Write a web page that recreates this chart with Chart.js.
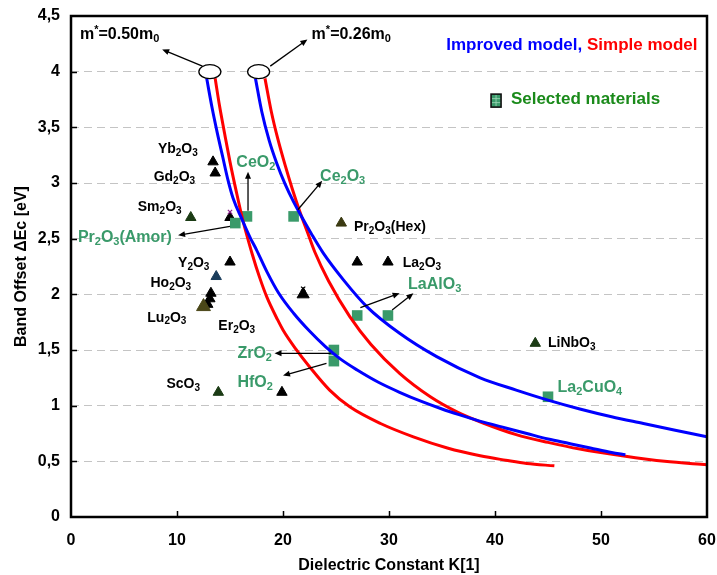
<!DOCTYPE html>
<html>
<head>
<meta charset="utf-8">
<script src="https://cdn.jsdelivr.net/npm/chart.js@4/dist/chart.umd.min.js"></script>
<style>
  html, body { margin: 0; padding: 0; background: #ffffff; }
  #wrap { width: 717px; height: 575px; }
</style>
</head>
<body>
<div id="wrap"><canvas id="chart" width="717" height="575"></canvas></div>
<script>
// Conduction band offset vs dielectric constant for two effective masses,
// improved (blue) and simple (red) model, plus material data points.

// m* = 0.50 m0, improved model
const improved050K = [12.8, 13.3, 13.8, 14.3, 14.8, 15.3, 16.1, 16.9, 17.5, 18.5, 19.6, 21.0, 22.5, 24.0, 25.4, 27.0, 29.0, 31.0, 33.0, 35.0, 36.6, 39.0, 41.0, 43.0, 45.0, 47.0, 49.0, 51.0, 52.3];
const improved050E = [3.94, 3.68, 3.45, 3.24, 3.03, 2.86, 2.68, 2.51, 2.40, 2.20, 2.01, 1.83, 1.67, 1.53, 1.42, 1.32, 1.21, 1.12, 1.04, 0.97, 0.92, 0.85, 0.80, 0.75, 0.70, 0.66, 0.62, 0.58, 0.56];
// m* = 0.50 m0, simple model
const simple050K = [13.6, 14.0, 14.5, 15.0, 15.6, 16.2, 17.1, 17.8, 18.5, 19.5, 20.0, 21.2, 22.5, 24.4, 26.3, 29.2, 32.3, 35.5, 38.6, 41.0, 43.0, 45.6];
const simple050E = [3.94, 3.70, 3.44, 3.19, 2.92, 2.67, 2.36, 2.15, 1.97, 1.77, 1.68, 1.51, 1.35, 1.14, 0.99, 0.84, 0.72, 0.62, 0.55, 0.51, 0.48, 0.46];
// m* = 0.26 m0, improved model
const improved026K = [17.4, 18.0, 18.7, 19.4, 20.2, 21.0, 21.8, 22.7, 23.8, 25.7, 27.9, 31.0, 34.5, 38.6, 42.0, 45.0, 48.0, 51.0, 54.0, 57.0, 60.0];
const improved026E = [3.94, 3.64, 3.38, 3.18, 2.99, 2.83, 2.69, 2.54, 2.37, 2.13, 1.89, 1.65, 1.44, 1.25, 1.14, 1.05, 0.97, 0.90, 0.84, 0.78, 0.72];
// m* = 0.26 m0, simple model
const simple026K = [18.3, 18.9, 19.5, 20.2, 20.9, 21.6, 22.3, 23.0, 24.3, 26.3, 28.3, 31.0, 33.9, 36.5, 39.0, 42.0, 45.0, 48.0, 52.0, 56.0, 60.0];
const simple026E = [3.94, 3.64, 3.40, 3.16, 2.94, 2.74, 2.56, 2.38, 2.12, 1.80, 1.55, 1.29, 1.08, 0.94, 0.84, 0.74, 0.67, 0.61, 0.55, 0.50, 0.47];

// Selected materials (squares)
const selectedNames = ['Pr2O3(Amor)', 'CeO2', 'Ce2O3', 'LaAlO3', 'LaAlO3', 'ZrO2', 'HfO2', 'La2CuO4'];
const selectedK = [15.5, 16.6, 21.0, 27.0, 29.9, 24.8, 24.8, 45.0];
const selectedE = [2.64, 2.70, 2.70, 1.81, 1.81, 1.50, 1.40, 1.08];

// Other oxides (triangles)
const otherNames = ['Yb2O3', 'Gd2O3', 'Sm2O3', '', 'Pr2O3(Hex)', 'Y2O3', '', 'La2O3', 'Ho2O3', '', '', 'Er2O3', 'Lu2O3', '', 'ScO3', '', 'LiNbO3'];
const otherK = [13.4, 13.6, 11.3, 15.0, 25.5, 15.0, 27.0, 29.9, 13.7, 13.2, 13.1, 12.9, 12.5, 21.9, 13.9, 19.9, 43.8];
const otherE = [3.19, 3.09, 2.69, 2.69, 2.64, 2.29, 2.29, 2.29, 2.16, 2.01, 1.96, 1.91, 1.89, 2.00, 1.12, 1.12, 1.56];
const otherColors = ['#000', '#000', '#1b3b14', '#000', '#3b3a12', '#000', '#000', '#000', '#1b3d5c', '#000', '#000', '#000', '#4a4718', '#000', '#1b3b14', '#000', '#1b3b14'];
const otherSizes = [6, 6, 6, 6, 6, 6, 6, 6, 6, 6, 6, 6, 8, 7, 6, 6, 6];

// Small cross marks overlapping two of the triangles
const crossK = [15.0, 21.9];
const crossE = [2.74, 2.05];
const crossColors = ['#8a1a8a', '#000'];

// Y tick labels use a decimal comma
const yTickLabels = ['0', '0,5', '1', '1,5', '2', '2,5', '3', '3,5', '4', '4,5'];

const GREEN = '#3a9a6a';
const FONT = '"Liberation Sans", Arial, sans-serif';

// Text annotations: markup "_c" = subscript, "^c" = superscript; anchor = left/middle in data units
const labelAnchors = [
  { t: 'Yb_2O_3', k: 8.2, e: 3.30, c: '#000', s: 14 },
  { t: 'Gd_2O_3', k: 7.8, e: 3.05, c: '#000', s: 14 },
  { t: 'Sm_2O_3', k: 6.3, e: 2.78, c: '#000', s: 14 },
  { t: 'Y_2O_3', k: 10.1, e: 2.28, c: '#000', s: 14 },
  { t: 'Ho_2O_3', k: 7.5, e: 2.10, c: '#000', s: 14 },
  { t: 'Lu_2O_3', k: 7.2, e: 1.79, c: '#000', s: 14 },
  { t: 'Er_2O_3', k: 13.9, e: 1.71, c: '#000', s: 14 },
  { t: 'ScO_3', k: 9.0, e: 1.19, c: '#000', s: 14 },
  { t: 'Pr_2O_3(Hex)', k: 26.7, e: 2.60, c: '#000', s: 14 },
  { t: 'La_2O_3', k: 31.3, e: 2.28, c: '#000', s: 14 },
  { t: 'LiNbO_3', k: 45.0, e: 1.56, c: '#000', s: 14 },
  { t: 'Pr_2O_3(Amor)', k: 0.65, e: 2.51, c: GREEN, s: 16 },
  { t: 'CeO_2', k: 15.6, e: 3.18, c: GREEN, s: 16 },
  { t: 'Ce_2O_3', k: 23.5, e: 3.06, c: GREEN, s: 16 },
  { t: 'LaAlO_3', k: 31.8, e: 2.09, c: GREEN, s: 16 },
  { t: 'ZrO_2', k: 15.7, e: 1.47, c: GREEN, s: 16 },
  { t: 'HfO_2', k: 15.7, e: 1.21, c: GREEN, s: 16 },
  { t: 'La_2CuO_4', k: 45.9, e: 1.16, c: GREEN, s: 16 },
  { t: 'm^*=0.50m_0', k: 0.85, e: 4.33, c: '#000', s: 16 },
  { t: 'm^*=0.26m_0', k: 22.7, e: 4.33, c: '#000', s: 16 },
  { t: 'Improved model, ', k: 35.4, e: 4.24, c: '#0000ff', s: 17, next: { t: 'Simple model', c: '#ff0000' } },
  { t: 'Selected materials', k: 41.5, e: 3.75, c: '#1a8a1a', s: 17 }
];

// Arrows from a mark to its label: [k1, e1, k2, e2]
const arrows = [
  [12.4, 4.05, 8.6, 4.20],
  [18.8, 4.05, 22.3, 4.29],
  [16.7, 2.75, 16.7, 3.10],
  [15.0, 2.61, 10.1, 2.53],
  [21.4, 2.76, 23.7, 3.02],
  [27.3, 1.88, 31.0, 2.01],
  [30.3, 1.86, 32.3, 2.01],
  [24.5, 1.47, 19.2, 1.47],
  [24.1, 1.38, 20.0, 1.27]
];

// Ellipses marking where each effective-mass pair starts
const ellipses = [[13.1, 4.0], [17.7, 4.0]];
const legendSquare = [40.1, 3.74];

function pts(ks, es) { return ks.map((k, i) => ({ x: k, y: es[i] })); }

function curve(ks, es, color) {
  return {
    data: pts(ks, es),
    showLine: true,
    borderColor: color,
    backgroundColor: color,
    borderWidth: 3,
    pointRadius: 0,
    cubicInterpolationMode: 'monotone'
  };
}

function drawRich(ctx, str, x, y, size, color) {
  let cx = x;
  ctx.fillStyle = color;
  ctx.textBaseline = 'middle';
  ctx.textAlign = 'left';
  for (let i = 0; i < str.length; i++) {
    let ch = str[i], fs = size, dy = 0;
    if ((ch === '_' || ch === '^') && i + 1 < str.length) {
      const mode = ch;
      ch = str[++i];
      fs = Math.round(size * 0.68);
      dy = mode === '_' ? size * 0.28 : -size * 0.33;
    }
    ctx.font = 'bold ' + fs + 'px ' + FONT;
    ctx.fillText(ch, cx, y + dy);
    cx += ctx.measureText(ch).width;
  }
  return cx;
}

function drawArrow(ctx, x1, y1, x2, y2) {
  const ang = Math.atan2(y2 - y1, x2 - x1);
  const len = 7, half = 3;
  ctx.beginPath();
  ctx.moveTo(x1, y1);
  ctx.lineTo(x2 - Math.cos(ang) * len * 0.8, y2 - Math.sin(ang) * len * 0.8);
  ctx.stroke();
  ctx.beginPath();
  ctx.moveTo(x2, y2);
  ctx.lineTo(x2 - Math.cos(ang) * len + Math.sin(ang) * half, y2 - Math.sin(ang) * len - Math.cos(ang) * half);
  ctx.lineTo(x2 - Math.cos(ang) * len - Math.sin(ang) * half, y2 - Math.sin(ang) * len + Math.cos(ang) * half);
  ctx.closePath();
  ctx.fill();
}

const overlay = {
  id: 'overlay',
  afterDatasetsDraw(chart) {
    const { ctx, scales: { x, y } } = chart;
    const X = v => x.getPixelForValue(v), Y = v => y.getPixelForValue(v);
    ctx.save();
    ctx.strokeStyle = '#000';
    ctx.fillStyle = '#000';
    ctx.lineWidth = 1.3;
    arrows.forEach(([k1, e1, k2, e2]) => drawArrow(ctx, X(k1), Y(e1), X(k2), Y(e2)));

    ellipses.forEach(([k, e]) => {
      ctx.beginPath();
      ctx.ellipse(X(k), Y(e), 11, 7, 0, 0, Math.PI * 2);
      ctx.fillStyle = '#fff';
      ctx.fill();
      ctx.lineWidth = 1.3;
      ctx.strokeStyle = '#000';
      ctx.stroke();
    });

    // legend swatch for selected materials
    const sx = X(legendSquare[0]), sy = Y(legendSquare[1]);
    ctx.fillStyle = GREEN;
    ctx.fillRect(sx - 5, sy - 6.5, 10, 13);
    ctx.strokeStyle = '#9fd8b8';
    ctx.lineWidth = 0.8;
    ctx.beginPath();
    ctx.moveTo(sx, sy - 6); ctx.lineTo(sx, sy + 6);
    ctx.moveTo(sx - 4.5, sy - 2); ctx.lineTo(sx + 4.5, sy - 2);
    ctx.moveTo(sx - 4.5, sy + 2); ctx.lineTo(sx + 4.5, sy + 2);
    ctx.stroke();
    ctx.strokeStyle = '#111';
    ctx.lineWidth = 1.6;
    ctx.strokeRect(sx - 5, sy - 6.5, 10, 13);

    labelAnchors.forEach(l => {
      let end = drawRich(ctx, l.t, X(l.k), Y(l.e), l.s, l.c);
      if (l.next) drawRich(ctx, l.next.t, end, Y(l.e), l.s, l.next.c);
    });
    ctx.restore();
  },
  afterDraw(chart) {
    const { ctx, chartArea: a, scales: { x, y } } = chart;
    ctx.save();
    ctx.strokeStyle = '#000';
    ctx.lineWidth = 1.5;
    ctx.beginPath();
    y.ticks.forEach(t => {
      if (t.value <= 0 || t.value >= 4.5) return;
      const py = Math.round(y.getPixelForValue(t.value)) + 0.5;
      ctx.moveTo(a.left, py); ctx.lineTo(a.left + 6, py);
    });
    x.ticks.forEach(t => {
      if (t.value <= 0 || t.value >= 60) return;
      const px = Math.round(x.getPixelForValue(t.value)) + 0.5;
      ctx.moveTo(px, a.bottom); ctx.lineTo(px, a.bottom - 6);
    });
    ctx.stroke();
    ctx.lineWidth = 2.5;
    ctx.strokeRect(a.left, a.top, a.right - a.left, a.bottom - a.top);
    ctx.restore();
  }
};

new Chart(document.getElementById('chart'), {
  type: 'scatter',
  data: {
    datasets: [
      curve(improved050K, improved050E, '#0000ff'),
      curve(simple050K, simple050E, '#ff0000'),
      curve(improved026K, improved026E, '#0000ff'),
      curve(simple026K, simple026E, '#ff0000'),
      {
        data: pts(crossK, crossE),
        pointStyle: 'crossRot',
        pointRadius: 3,
        borderWidth: 1.2,
        borderColor: crossColors,
        backgroundColor: crossColors
      },
      {
        data: pts(selectedK, selectedE),
        pointStyle: 'rect',
        pointRadius: 7.5,
        borderWidth: 0,
        backgroundColor: GREEN,
        borderColor: GREEN
      },
      {
        data: pts(otherK, otherE),
        pointStyle: 'triangle',
        pointRadius: otherSizes,
        borderWidth: 1,
        backgroundColor: otherColors,
        borderColor: otherColors
      }
    ]
  },
  options: {
    responsive: false,
    animation: false,
    events: [],
    layout: { padding: { left: 0, top: 16, right: 10, bottom: 0 } },
    plugins: { legend: { display: false }, tooltip: { enabled: false } },
    scales: {
      x: {
        type: 'linear',
        min: 0,
        max: 60,
        grid: { display: false, drawTicks: false },
        border: { display: false },
        ticks: {
          stepSize: 10,
          padding: 14,
          color: '#000',
          font: { family: FONT, size: 16, weight: 'bold' }
        },
        title: {
          display: true,
          text: 'Dielectric Constant K[1]',
          color: '#000',
          font: { family: FONT, size: 16, weight: 'bold' },
          padding: { top: 0, bottom: 0 }
        },
        afterFit(s) { s.height = 58; s.paddingLeft = 0; s.paddingRight = 0; }
      },
      y: {
        type: 'linear',
        min: 0,
        max: 4.5,
        grid: { color: '#c4c4c4', lineWidth: 1, drawTicks: false },
        border: { display: false, dash: [8, 5] },
        ticks: {
          stepSize: 0.5,
          padding: 11,
          color: '#000',
          font: { family: FONT, size: 16, weight: 'bold' },
          callback: (v, i) => yTickLabels[i]
        },
        title: {
          display: true,
          text: 'Band Offset \u0394Ec [eV]',
          color: '#000',
          font: { family: FONT, size: 16, weight: 'bold' },
          padding: { top: 12, bottom: 0 }
        },
        afterFit(s) { s.width = 71; s.paddingTop = 0; s.paddingBottom = 0; }
      }
    }
  },
  plugins: [overlay]
});
</script>
</body>
</html>
